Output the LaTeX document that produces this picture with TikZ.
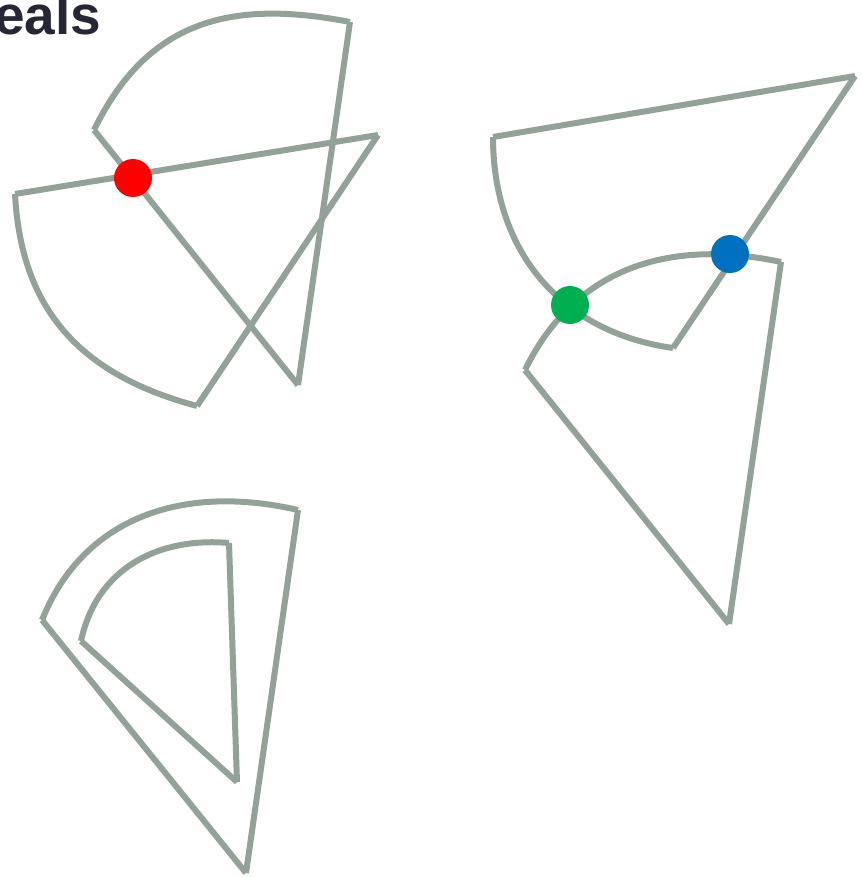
\documentclass[tikz,border=0pt]{standalone}
\usepackage{fontspec}
\setmainfont{Liberation Sans}
\definecolor{edge}{RGB}{146,162,152}
\definecolor{ink}{RGB}{38,38,52}
\definecolor{dotred}{RGB}{255,0,0}
\definecolor{dotgreen}{RGB}{0,176,80}
\definecolor{dotblue}{RGB}{0,112,192}
\tikzset{
  sectorline/.style={draw=edge, line width=6pt, line cap=butt},
  spot/.style={circle, minimum size=38pt, inner sep=0pt, draw=none},
}
\begin{document}
\begin{tikzpicture}[x=1pt,y=1pt]
\useasboundingbox (0,0) rectangle (861,-877);
% title fragment
\node[anchor=base east, inner sep=0pt, text=ink, font=\fontsize{55}{60}\selectfont\bfseries] (title) at (101.5,-35) {eals};
% shape A
\coordinate (a0) at (298,-385);
\coordinate (a1) at (94,-130);
\coordinate (a2) at (350,-22);
\draw[sectorline] (a0) -- (a1);
\draw[sectorline] (a1) to[out=64,in=169,looseness=1.12] (a2);
\draw[sectorline] (a2) -- (a0);
% shape B
\coordinate (b0) at (378,-135);
\coordinate (b1) at (15,-194);
\coordinate (b2) at (197,-406);
\draw[sectorline] (b0) -- (b1);
\draw[sectorline] (b1) to[out=-87,in=165,looseness=1.08] (b2);
\draw[sectorline] (b2) -- (b0);
% shape C
\coordinate (c0) at (855,-76);
\coordinate (c1) at (493,-137);
\coordinate (c2) at (673,-348);
\draw[sectorline] (c0) -- (c1);
\draw[sectorline] (c1) to[out=-90,in=172,looseness=1.05] (c2);
\draw[sectorline] (c2) -- (c0);
% shape D
\coordinate (d0) at (729,-624);
\coordinate (d1) at (525,-370);
\coordinate (d2) at (781,-262);
\draw[sectorline] (d0) -- (d1);
\draw[sectorline] (d1) to[out=64,in=168,looseness=1.05] (d2);
\draw[sectorline] (d2) -- (d0);
% shape E outer
\coordinate (e0) at (246,-873);
\coordinate (e1) at (42,-620);
\coordinate (e2) at (298,-510);
\draw[sectorline] (e0) -- (e1);
\draw[sectorline] (e1) to[out=68,in=167,looseness=1.05] (e2);
\draw[sectorline] (e2) -- (e0);
% shape E inner
\coordinate (f0) at (237,-782);
\coordinate (f1) at (81,-641);
\coordinate (f2) at (229,-543);
\draw[sectorline] (f0) -- (f1);
\draw[sectorline] (f1) to[out=78,in=175,looseness=1.05] (f2);
\draw[sectorline] (f2) -- (f0);
% dots
\node[spot, fill=dotred] (red) at (133,-178) {};
\node[spot, fill=dotgreen] (green) at (570,-305) {};
\node[spot, fill=dotblue] (blue) at (730,-254) {};
\end{tikzpicture}
\end{document}
